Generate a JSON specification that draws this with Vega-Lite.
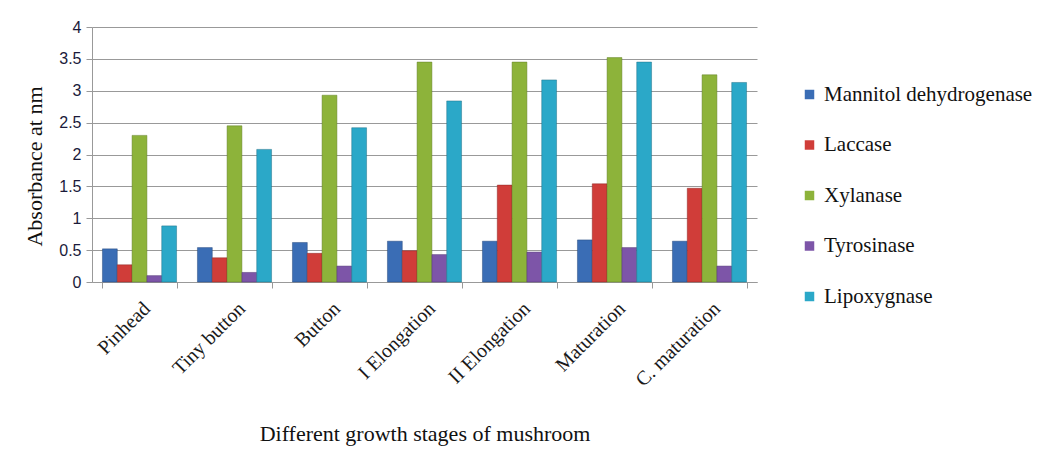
{
  "$schema": "https://vega.github.io/schema/vega-lite/v6.json",
  "autosize": "none",
  "width": 665,
  "height": 255,
  "padding": {"left": 92, "top": 27, "right": 281, "bottom": 173},
  "background": "white",
  "data": {"values": [
    {"stage": "Pinhead", "enzyme": "Mannitol dehydrogenase", "v": 0.52},
    {"stage": "Pinhead", "enzyme": "Laccase", "v": 0.27},
    {"stage": "Pinhead", "enzyme": "Xylanase", "v": 2.30},
    {"stage": "Pinhead", "enzyme": "Tyrosinase", "v": 0.10},
    {"stage": "Pinhead", "enzyme": "Lipoxygnase", "v": 0.88},
    {"stage": "Tiny button", "enzyme": "Mannitol dehydrogenase", "v": 0.54},
    {"stage": "Tiny button", "enzyme": "Laccase", "v": 0.38},
    {"stage": "Tiny button", "enzyme": "Xylanase", "v": 2.45},
    {"stage": "Tiny button", "enzyme": "Tyrosinase", "v": 0.15},
    {"stage": "Tiny button", "enzyme": "Lipoxygnase", "v": 2.08},
    {"stage": "Button", "enzyme": "Mannitol dehydrogenase", "v": 0.62},
    {"stage": "Button", "enzyme": "Laccase", "v": 0.45},
    {"stage": "Button", "enzyme": "Xylanase", "v": 2.93},
    {"stage": "Button", "enzyme": "Tyrosinase", "v": 0.25},
    {"stage": "Button", "enzyme": "Lipoxygnase", "v": 2.42},
    {"stage": "I Elongation", "enzyme": "Mannitol dehydrogenase", "v": 0.64},
    {"stage": "I Elongation", "enzyme": "Laccase", "v": 0.49},
    {"stage": "I Elongation", "enzyme": "Xylanase", "v": 3.45},
    {"stage": "I Elongation", "enzyme": "Tyrosinase", "v": 0.43},
    {"stage": "I Elongation", "enzyme": "Lipoxygnase", "v": 2.84},
    {"stage": "II Elongation", "enzyme": "Mannitol dehydrogenase", "v": 0.64},
    {"stage": "II Elongation", "enzyme": "Laccase", "v": 1.52},
    {"stage": "II Elongation", "enzyme": "Xylanase", "v": 3.45},
    {"stage": "II Elongation", "enzyme": "Tyrosinase", "v": 0.47},
    {"stage": "II Elongation", "enzyme": "Lipoxygnase", "v": 3.17},
    {"stage": "Maturation", "enzyme": "Mannitol dehydrogenase", "v": 0.66},
    {"stage": "Maturation", "enzyme": "Laccase", "v": 1.54},
    {"stage": "Maturation", "enzyme": "Xylanase", "v": 3.52},
    {"stage": "Maturation", "enzyme": "Tyrosinase", "v": 0.54},
    {"stage": "Maturation", "enzyme": "Lipoxygnase", "v": 3.45},
    {"stage": "C. maturation", "enzyme": "Mannitol dehydrogenase", "v": 0.64},
    {"stage": "C. maturation", "enzyme": "Laccase", "v": 1.47},
    {"stage": "C. maturation", "enzyme": "Xylanase", "v": 3.25},
    {"stage": "C. maturation", "enzyme": "Tyrosinase", "v": 0.25},
    {"stage": "C. maturation", "enzyme": "Lipoxygnase", "v": 3.13}
  ]},
  "mark": {"type": "bar", "strokeWidth": 0.8, "strokeOpacity": 0.6},
  "encoding": {
    "x": {
      "field": "stage", "type": "nominal", "sort": null,
      "scale": {"paddingInner": 0.22, "paddingOuter": 0.11},
      "axis": {
        "title": "Different growth stages of mushroom",
        "titleFont": "Liberation Serif", "titleFontSize": 22, "titleFontWeight": "normal",
        "titleColor": "#111", "titlePadding": 34,
        "labelFont": "Liberation Serif", "labelFontSize": 20, "labelColor": "#1a1a1a",
        "labelAngle": -45, "labelPadding": 10,
        "tickBand": "extent", "tickSize": 6, "tickColor": "#999",
        "domainColor": "#999", "grid": false
      }
    },
    "xOffset": {"field": "enzyme", "type": "nominal", "sort": ["Mannitol dehydrogenase", "Laccase", "Xylanase", "Tyrosinase", "Lipoxygnase"], "scale": {"paddingInner": 0, "paddingOuter": 0}},
    "y": {
      "field": "v", "type": "quantitative",
      "scale": {"domain": [0, 4], "nice": false},
      "axis": {
        "title": "Absorbance at nm",
        "titleFont": "Liberation Serif", "titleFontSize": 22, "titleFontWeight": "normal",
        "titleColor": "#111", "titlePadding": 12, "titleY": 139,
        "values": [0, 0.5, 1, 1.5, 2, 2.5, 3, 3.5, 4],
        "format": "~g",
        "labelFont": "Liberation Sans", "labelFontSize": 16, "labelColor": "#1a1a3a",
        "labelPadding": 5,
        "tickSize": 6, "tickColor": "#999", "domainColor": "#999",
        "grid": true, "gridColor": "#999", "gridWidth": 1
      }
    },
    "color": {
      "field": "enzyme", "type": "nominal",
      "sort": ["Mannitol dehydrogenase", "Laccase", "Xylanase", "Tyrosinase", "Lipoxygnase"],
      "scale": {
        "domain": ["Mannitol dehydrogenase", "Laccase", "Xylanase", "Tyrosinase", "Lipoxygnase"],
        "range": ["#3A6DB5", "#D03D39", "#8DB33A", "#7D55A8", "#2BA8C8"]
      },
      "legend": {
        "title": null, "orient": "none", "legendX": 707, "legendY": 57,
        "symbolType": "square", "symbolSize": 90, "symbolStrokeWidth": 0,
        "labelFont": "Liberation Serif", "labelFontSize": 21, "labelColor": "#111",
        "labelOffset": 4, "rowPadding": 28.5, "labelLimit": 300
      }
    },
    "stroke": {
      "field": "enzyme", "type": "nominal",
      "scale": {
        "domain": ["Mannitol dehydrogenase", "Laccase", "Xylanase", "Tyrosinase", "Lipoxygnase"],
        "range": ["#23457a", "#8a2522", "#5d7a22", "#4f3470", "#1b6e85"]
      },
      "legend": null
    }
  },
  "config": {"view": {"stroke": null}, "legend": {"labelFont": "Liberation Serif"}}
}
